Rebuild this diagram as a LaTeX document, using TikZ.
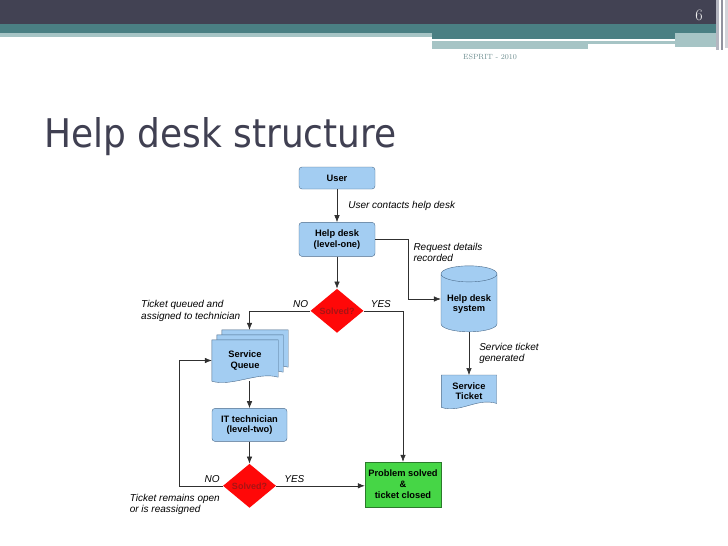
\documentclass[tikz,border=0pt]{standalone}
\usepackage{fontspec}
\usepackage{xcolor}
\usetikzlibrary{shapes.geometric, arrows.meta, positioning, backgrounds}
\newfontfamily\flowfont{Liberation Sans}
\newfontfamily\titlefont[FakeStretch=0.91]{DejaVu Sans}
\definecolor{hdrdark}{HTML}{424253}
\definecolor{hdrteal}{HTML}{4A7F83}
\definecolor{hdrlight}{HTML}{A6C4C5}
\definecolor{hdrstripe}{HTML}{B4B6C0}
\definecolor{footgray}{HTML}{6E8E90}
\definecolor{titlegray}{HTML}{404052}
\definecolor{boxblue}{HTML}{A3CDF2}
\definecolor{boxline}{HTML}{4B6A8A}
\definecolor{solvedred}{HTML}{FF0808}
\definecolor{solvedtext}{HTML}{A81414}
\definecolor{donegreen}{HTML}{46D646}
\definecolor{doneline}{HTML}{2B7A2B}
\definecolor{flowline}{HTML}{303030}
\tikzset{
    flow/.style={x=1pt, y=-1pt, font=\flowfont},
    flow box/.style={rounded corners=3pt, draw=boxline, fill=boxblue, align=center,
        font=\flowfont\bfseries\fontsize{9.3}{10.5}\selectfont,
        minimum width=76pt, inner sep=1pt},
    flow doc/.style={align=center, inner sep=0pt,
        font=\flowfont\bfseries\fontsize{9.3}{10.5}\selectfont},
    flow doc outline/.style={draw=boxline, fill=boxblue},
    flow decision/.style={diamond, fill=solvedred, text=solvedtext, inner sep=0pt,
        minimum width=53pt, minimum height=44pt,
        font=\flowfont\bfseries\fontsize{9}{10}\selectfont},
    flow end/.style={draw=doneline, fill=donegreen, align=center, inner sep=1pt,
        minimum width=76pt, minimum height=45pt,
        font=\flowfont\bfseries\fontsize{9.3}{11}\selectfont},
    flow store/.style={cylinder, shape border rotate=90, aspect=0.35, draw=boxline,
        fill=boxblue, align=center, inner sep=1pt, minimum width=56pt, minimum height=66pt,
        font=\flowfont\bfseries\fontsize{9.3}{10.5}\selectfont},
    flow arrow/.style={-{Latex[length=7pt, width=5.5pt]}, draw=flowline, line width=0.6pt},
    flow label/.style={font=\flowfont\itshape\fontsize{10}{11.5}\selectfont, align=left, inner sep=1pt},
    flow answer/.style={font=\flowfont\itshape\fontsize{10}{11}\selectfont, inner sep=1pt},
}
% document outline round a node, shifted up and right by #2
\newcommand\docoutline[2]{%
    \draw[flow doc outline] ([shift={(#2,-#2)}]#1.north west) -- ([shift={(#2,-#2)}]#1.north east)
        -- ([shift={(#2,-#2-4)}]#1.south east)
        .. controls ([shift={(#2-20,-#2-10)}]#1.south east) and ([shift={(#2+20,-#2+6)}]#1.south west)
        .. ([shift={(#2,-#2)}]#1.south west) -- cycle;}

\begin{document}
\begin{tikzpicture}[flow]
    \useasboundingbox (0,0) rectangle (728,546);

    % Slide header
    \fill[hdrdark] (0,0) rectangle (716,24);
    \fill[hdrteal] (0,24) rectangle (716,33);
    \fill[hdrlight] (0,33) rectangle (432,37);
    \fill[hdrteal] (432,33) rectangle (675,39);
    \fill[hdrlight] (675,33) rectangle (716,47);
    \fill[hdrlight] (432,41) rectangle (588,49);
    \fill[hdrlight] (588,41) rectangle (675,44);
    \fill[hdrstripe] (716,0) rectangle (719,50);
    \fill[hdrstripe!70!hdrdark] (721,0) rectangle (723,50);
    \fill[hdrstripe!60] (725,0) rectangle (728,48);
    \node[font=\fontsize{16}{16}\selectfont, text=white!90!gray, inner sep=0pt] (page) at (699,15) {6};
    \node[font=\fontsize{7.5}{8}\selectfont, text=footgray, inner sep=0pt] (footer) at (490,57) {ESPRIT - \oldstylenums{2010}};
    \node[font=\titlefont\fontsize{39.5}{40}\selectfont, text=titlegray, anchor=base west, inner sep=0pt] (title) at (44,147) {Help desk structure};

    % Nodes
    \node[flow box, minimum height=22pt] (user) at (337,178) {User};
    \node[flow box, minimum height=34pt, below=33pt of user] (helpdesk) {Help desk\\(level-one)};
    \node[flow decision, below=32pt of helpdesk] (check1) {Solved?};
    \node[flow store] (system) at (469,304) {Help desk\\system};
    \node[flow doc, minimum width=55pt, minimum height=32pt, below=43pt of system] (ticket) {Service\\Ticket};
    \node[flow doc, minimum width=66pt, minimum height=41pt] (queue) at (245,360.5) {Service\\Queue};
    \node[flow box, minimum width=75pt, minimum height=33pt, below=27pt of queue, xshift=4.5pt] (tech) {IT technician\\(level-two)};
    \node[flow decision, below=22pt of tech] (check2) {Solved?};
    \node[flow end] (done) at (403,484.5) {Problem solved\\\&\\ticket closed};
    \path (queue.north -| tech.north) ++(0,-10) coordinate (queue in);
    \path (system.west) ++(0,-5) coordinate (system in);

    \begin{scope}[on background layer]
        \docoutline{queue}{10}
        \docoutline{queue}{5}
        \docoutline{queue}{0}
        \docoutline{ticket}{0}
    \end{scope}

    % Answers
    \node[flow answer, above left=2pt and 1pt of check1.west] (no1) {NO};
    \node[flow answer, above right=2pt and 6pt of check1.east] (yes1) {YES};
    \node[flow answer, above left=2pt and 2pt of check2.west] (no2) {NO};
    \node[flow answer, above right=2pt and 7pt of check2.east] (yes2) {YES};

    % Arrows
    \draw[flow arrow] (user) -- node[flow label, right=10pt] {User contacts help desk} (helpdesk);
    \draw[flow arrow] (helpdesk) -- (check1);
    \draw[flow arrow] (helpdesk.east) -- ++(33,0) |- node[flow label, pos=0.11, right=4pt] {Request details\\recorded} (system in);
    \draw[flow arrow] (system) -- node[flow label, right=9pt] {Service ticket\\generated} (ticket);
    \draw[flow arrow] (check1.west) -| node[flow label, pos=0.5, left=8pt] {Ticket queued and\\assigned to technician} (queue in);
    \draw[flow arrow] (check1.east) -| (done.north);
    \draw[flow arrow] (queue.south -| tech.north) -- (tech.north);
    \draw[flow arrow] (tech) -- (check2);
    \draw[flow arrow] (check2.west) -- node[flow label, below=7pt, xshift=-26pt] {Ticket remains open\\or is reassigned} ++(-44,0) |- (queue.west);
    \draw[flow arrow] (check2.east) -- (check2.east -| done.west);

\end{tikzpicture}
\end{document}
